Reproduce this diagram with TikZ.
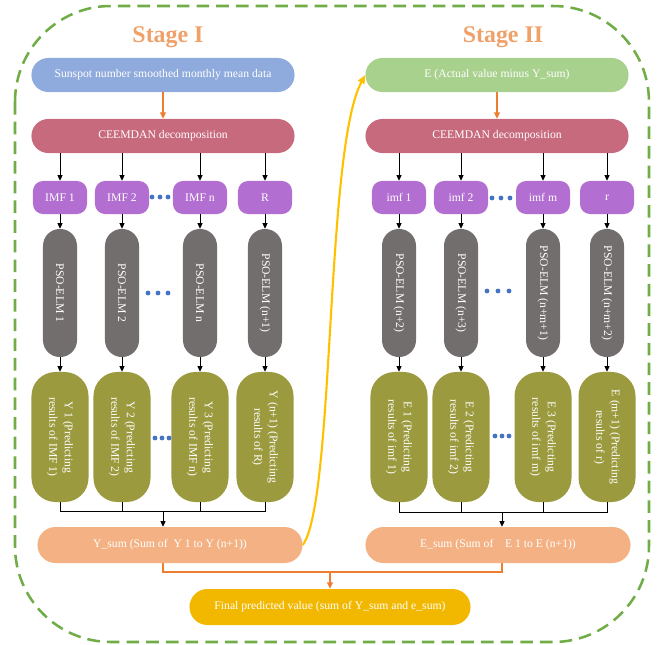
\documentclass[tikz,border=0pt]{standalone}
\usepackage{fontspec}
\setmainfont{Liberation Serif}
\usepackage{tikz}
\usetikzlibrary{arrows.meta}

\definecolor{stageorange}{RGB}{240,160,105}
\definecolor{inblue}{RGB}{143,170,220}
\definecolor{ingreen}{RGB}{169,209,142}
\definecolor{ceemrose}{RGB}{200,106,125}
\definecolor{imfpurple}{RGB}{178,110,208}
\definecolor{psogrey}{RGB}{115,110,110}
\definecolor{resolive}{RGB}{156,154,62}
\definecolor{sumsalmon}{RGB}{244,177,131}
\definecolor{finalgold}{RGB}{242,184,0}
\definecolor{curvegold}{RGB}{255,192,0}
\definecolor{arrorange}{RGB}{237,125,49}
\definecolor{bordergreen}{RGB}{112,173,71}
\definecolor{dotblue}{RGB}{68,114,196}

\begin{document}
\begin{tikzpicture}[x=0.025cm, y=-0.025cm,
		every node/.style={font=\fontsize{8.3}{11}\selectfont, text=white, inner sep=0pt},
		stagetitle/.style={font=\fontsize{17}{17}\selectfont\bfseries, text=stageorange},
		topbox/.style={rounded corners=0.42cm, minimum width=6.575cm, minimum height=0.85cm},
		imfbox/.style={fill=imfpurple, rounded corners=0.25cm, minimum width=1.35cm, minimum height=0.825cm},
		psobox/.style={fill=psogrey, rotate=-90, rounded corners=0.42cm, minimum width=3.2cm, minimum height=0.85cm},
		resbox/.style={fill=resolive, rotate=-90, rounded corners=0.6cm, minimum width=3.25cm, minimum height=1.425cm, align=center},
		sumbox/.style={fill=sumsalmon, rounded corners=0.45cm, minimum width=6.625cm, minimum height=0.9cm},
		arr/.style={-{Triangle[length=4pt,width=3.6pt]}, line width=0.7pt},
		oline/.style={draw=arrorange, line width=1.1pt},
		oarr/.style={oline, -{Triangle[length=4.5pt,width=4pt]}}
	]
	\useasboundingbox (0,0) rectangle (657,644);
	% Outer dashed frame
	\draw[bordergreen, line width=1.8pt, dash pattern=on 9pt off 5pt, rounded corners=2.4cm] (15,6) rectangle (649,642);
	% Titles
	\node[stagetitle] (stage1) at (168,37) {Stage I};
	\node[stagetitle] (stage2) at (503,37) {Stage II};
	% Inputs and decompositions
	\node[topbox, fill=inblue] (sunspot) at (163,75) {Sunspot number smoothed monthly mean data};
	\node[topbox, fill=ceemrose] (ceemL) at (163,136) {CEEMDAN decomposition};
	\node[topbox, fill=ingreen] (edata) at (497,75) {E (Actual value minus Y\_sum)};
	\node[topbox, fill=ceemrose] (ceemR) at (497,136) {CEEMDAN decomposition};
	\draw[oarr] (sunspot) -- (ceemL);
	\draw[oarr] (edata) -- (ceemR);
	% Stage I columns
	\foreach \x/\i/\imf/\pso/\res in {60/1/IMF 1/PSO-ELM 1/{Y 1 (Predicting\\results of IMF 1)},
			122/2/IMF 2/PSO-ELM 2/{Y 2 (Predicting\\results of IMF 2)},
			200/3/IMF n/PSO-ELM n/{Y 3 (Predicting\\results of IMF n)},
			265/4/R/PSO-ELM (n+1)/{Y (n+1) (Predicting\\results of R)}}{
		\node[imfbox] (imfL\i) at (\x,197.5) {\imf};
		\node[psobox] (psoL\i) at (\x,293) {\pso};
		\node[resbox] (resL\i) at (\x,437) {\res};
		\draw[arr] (ceemL.south -| imfL\i) -- (imfL\i);
		\draw[arr] (imfL\i) -- (psoL\i);
		\draw[arr] (psoL\i) -- (resL\i);
	}
	% Stage II columns
	\foreach \x/\i/\imf/\pso/\res in {399/1/imf 1/PSO-ELM (n+2)/{E 1 (Predicting\\results of imf 1)},
			461/2/imf 2/PSO-ELM (n+3)/{E 2 (Predicting\\results of imf 2)},
			543/3/imf m/PSO-ELM (n+m+1)/{E 3 (Predicting\\results of imf m)},
			607/4/r/PSO-ELM (n+m+2)/{E (m+1) (Predicting\\results of r)}}{
		\node[imfbox] (imfR\i) at (\x,197.5) {\imf};
		\node[psobox] (psoR\i) at (\x,293) {\pso};
		\node[resbox] (resR\i) at (\x,437) {\res};
		\draw[arr] (ceemR.south -| imfR\i) -- (imfR\i);
		\draw[arr] (imfR\i) -- (psoR\i);
		\draw[arr] (psoR\i) -- (resR\i);
	}
	% Ellipsis dots
	\foreach \x/\y in {152/197, 160/197, 168/197, 148/293, 158/293, 168/293, 155/438, 162/438, 169/438,
			492/198, 501/198, 510/198, 487/291, 498/291, 509/291, 495/436, 502/436, 509/436}
		\fill[dotblue] (\x,\y) circle (2.4);
	% Sums
	\node[sumbox] (ysum) at (170,545) {Y\_sum (Sum of~ Y 1 to Y (n+1))};
	\node[sumbox] (esum) at (498,545) {E\_sum (Sum of~~~~E 1 to E (n+1))};
	\node[sumbox, fill=finalgold, minimum width=7.025cm] (final) at (330,607) {Final predicted value (sum of Y\_sum and e\_sum)};
	\coordinate (busL) at (163,511);
	\coordinate (busR) at (502,512);
	\coordinate (obus) at (330,572);
	\foreach \i in {1,...,4}{
		\draw[line width=0.7pt] (resL\i) |- (busL);
		\draw[line width=0.7pt] (resR\i) |- (busR);
	}
	\draw[arr] (busL) -- (busL |- ysum.north);
	\draw[arr] (busR) -- (busR |- esum.north);
	\draw[oline] (busL |- ysum.south) |- (obus) -| (busR |- esum.south);
	\draw[oarr] (obus) -- (final);
	% Link from Stage I to Stage II
	\draw[curvegold, line width=1.5pt, -{Triangle[length=6pt,width=5pt]}] (ysum.east) .. controls (335,500) and (325,150) .. (edata.west);
\end{tikzpicture}
\end{document}
